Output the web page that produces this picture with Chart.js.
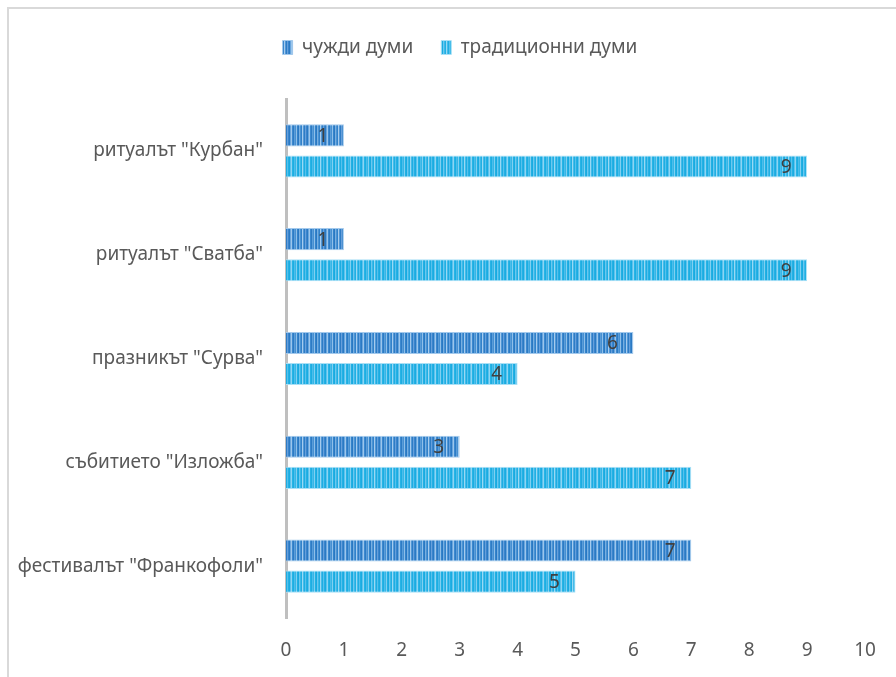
<!DOCTYPE html>
<html>
<head>
<meta charset="utf-8">
<script src="https://cdn.jsdelivr.net/npm/chart.js@4/dist/chart.umd.min.js"></script>
<style>
    body { margin: 0; background: #ffffff; }
    #box { width: 896px; height: 677px; }
</style>
</head>
<body>
<div id="box"><canvas id="myChart" width="896" height="677"></canvas></div>
<script>
// dados do gráfico
const categorias = ['ритуалът "Курбан"', 'ритуалът "Сватба"', 'празникът "Сурва"', 'събитието "Изложба"', 'фестивалът "Франкофоли"'];
const chuzhdi = [1, 1, 6, 3, 7];
const traditsionni = [9, 9, 4, 7, 5];
const nomesSeries = ['чужди думи', 'традиционни думи'];
const ticksX = [0, 1, 2, 3, 4, 5, 6, 7, 8, 9, 10];

// listras verticais finas
function listras(cores) {
    const c = document.createElement('canvas');
    c.width = cores.length;
    c.height = 4;
    const g = c.getContext('2d');
    for (let i = 0; i < cores.length; i++) {
        g.fillStyle = cores[i];
        g.fillRect(i, 0, 1, 4);
    }
    return g.createPattern(c, 'repeat');
}

const azulEscuro = listras(['#3a86cd', '#2b79c3', '#6aa6dd', '#9cc6ec', '#3d89cf', '#2d7bc4', '#5a9cd8', '#4690d2',
    '#8fbfe9', '#3584cb', '#2a78c2', '#78afe1', '#4a93d3', '#3281ca', '#a5cbee', '#5398d6', '#2e7cc5', '#679fdb']);
const azulClaro = listras(['#24b1e4', '#1aabe1', '#5cc3ed', '#8dd5f3', '#28b3e5', '#1caee2', '#4bbdea', '#35b7e7',
    '#80d0f1', '#22b0e3', '#19aae0', '#6ac8ef', '#3cb9e8', '#20afe3', '#98d9f4', '#44bbe9', '#1eade2', '#57c1ec']);

// moldura cinza + legenda um pouco para a direita
const moldura = {
    id: 'moldura',
    beforeDraw(chart) {
        chart.legend.left = 55;
        chart.legend.right = 865;
        const ctx = chart.ctx;
        ctx.save();
        ctx.strokeStyle = '#d9d9d9';
        ctx.lineWidth = 2;
        ctx.beginPath();
        ctx.moveTo(8, 677);
        ctx.lineTo(8, 8);
        ctx.lineTo(896, 8);
        ctx.stroke();
        ctx.restore();
    }
};

// rótulos dentro do fim da barra
const rotulos = {
    id: 'rotulos',
    afterDatasetsDraw(chart) {
        const ctx = chart.ctx;
        ctx.save();
        ctx.fillStyle = '#404040';
        ctx.font = '19px "Noto Sans", sans-serif';
        ctx.textAlign = 'center';
        ctx.textBaseline = 'middle';
        chart.data.datasets.forEach(function (ds, i) {
            chart.getDatasetMeta(i).data.forEach(function (bar, j) {
                ctx.fillText(String(ds.data[j]), bar.x - 21, bar.y + 1);
            });
        });
        ctx.restore();
    }
};

const ctx = document.getElementById('myChart');

new Chart(ctx, {
    type: 'bar',
    data: {
        labels: categorias,
        datasets: [{
            label: nomesSeries[0],
            data: chuzhdi,
            backgroundColor: azulEscuro,
            borderColor: '#a3c9ec',
            borderWidth: 1,
            categoryPercentage: 0.6,
            barPercentage: 0.71
        }, {
            label: nomesSeries[1],
            data: traditsionni,
            backgroundColor: azulClaro,
            borderColor: '#a9e0f6',
            borderWidth: 1,
            categoryPercentage: 0.6,
            barPercentage: 0.71
        }]
    },
    options: {
        indexAxis: 'y',
        responsive: false,
        animation: false,
        layout: { padding: { top: 10, right: 31, left: 0, bottom: 0 } },
        plugins: {
            legend: {
                position: 'top',
                labels: {
                    boxWidth: 10,
                    boxHeight: 14,
                    padding: 28,
                    color: '#595959',
                    font: { family: '"Noto Sans", sans-serif', size: 19 }
                }
            },
            tooltip: { enabled: false }
        },
        scales: {
            x: {
                min: 0,
                max: 10,
                afterBuildTicks: function (s) { s.ticks = ticksX.map(function (v) { return { value: v }; }); },
                grid: { display: false },
                border: { display: false },
                ticks: {
                    color: '#595959',
                    padding: 13,
                    font: { family: '"Noto Sans", sans-serif', size: 19 }
                },
                afterFit: function (s) { s.height = 59; }
            },
            // espaço entre a legenda e as barras
            x2: {
                position: 'top',
                min: 0,
                max: 10,
                grid: { display: false },
                border: { display: false },
                ticks: { display: false },
                afterFit: function (s) { s.height = 32; }
            },
            y: {
                grid: { display: false },
                border: { color: '#bfbfbf', width: 3 },
                ticks: {
                    color: '#595959',
                    padding: 15,
                    font: { family: '"Noto Sans", sans-serif', size: 19 }
                },
                afterFit: function (s) { s.width = 286; }
            }
        }
    },
    plugins: [moldura, rotulos]
});
</script>
</body>
</html>
